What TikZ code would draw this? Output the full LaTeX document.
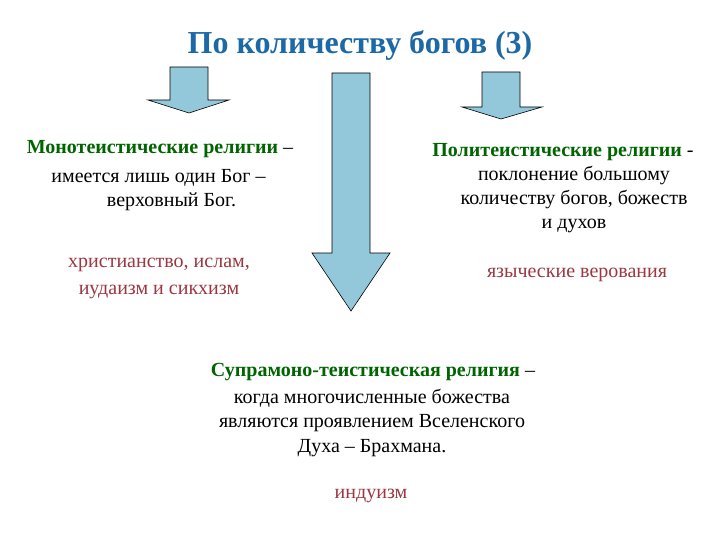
\documentclass[tikz,border=0pt]{standalone}
\usepackage{fontspec}
\setmainfont{Liberation Serif}
\usetikzlibrary{positioning}
\definecolor{arrowblue}{RGB}{146,200,218}
\definecolor{titleblue}{RGB}{28,105,165}
\definecolor{headgreen}{RGB}{0,100,0}
\definecolor{examplered}{RGB}{155,55,65}

\begin{document}
\begin{tikzpicture}[x=1pt, y=-1pt,
  blockarrow/.style={draw=black, fill=arrowblue, line width=0.6pt, line join=miter},
  title/.style={font=\bfseries\fontsize{32}{36}\selectfont, text=titleblue, anchor=base, inner sep=0pt},
  head/.style={font=\fontsize{20}{24}\selectfont, anchor=base, inner sep=0pt},
  body/.style={font=\fontsize{20}{24.3}\selectfont, align=center, anchor=base, inner sep=0pt},
  example/.style={body, text=examplered}]
  \useasboundingbox (0,0) rectangle (720,540);
  % Title
  \node[title] (title) at (360,54) {По количеству богов (3)};
  % Arrows: left, middle, right
  \draw[blockarrow] (170,67) -- (208,67) -- (208,100) -- (229,100) -- (189,113)
    -- (148,100) -- (170,100) -- cycle;
  \draw[blockarrow] (332,73) -- (370,73) -- (370,253) -- (390,253) -- (351,311)
    -- (312,253) -- (332,253) -- cycle;
  \draw[blockarrow] (482,72) -- (520,72) -- (520,107) -- (542,107) -- (501,119)
    -- (462,107) -- (482,107) -- cycle;
  % Monotheism (base = last line)
  \node[head] (mono) at (160,154) {\textbf{\color{headgreen}Монотеистические религии} –};
  \node[body] (monoText) at (158.5,207) {имеется лишь один Бог –\\
    \hspace*{26pt}верховный Бог.};
  \node[example] (monoEx) at (159,294) {христианство, ислам,\\[2pt]иудаизм и сикхизм};
  % Polytheism
  \node[head] (poly) at (563,157) {\textbf{\color{headgreen}Политеистические религии} -};
  \node[body] (polyText) at (574,229) {поклонение большому\\количеству богов, божеств\\и духов};
  \node[example] (polyEx) at (577,277) {языческие верования};
  % Supramono-theism
  \node[head] (supra) at (373,376) {\textbf{\color{headgreen}Супрамоно-теистическая религия} –};
  \node[body] (supraText) at (372,452) {когда многочисленные божества\\являются проявлением Вселенского\\Духа – Брахмана.};
  \node[example] (supraEx) at (371,498) {индуизм};
\end{tikzpicture}
\end{document}
